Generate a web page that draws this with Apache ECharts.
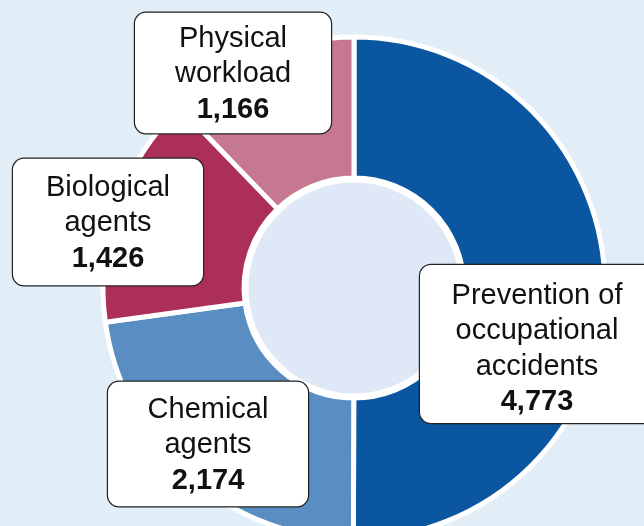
<!DOCTYPE html>
<html>
<head>
<meta charset="utf-8">
<script src="https://cdn.jsdelivr.net/npm/echarts@6/dist/echarts.min.js"></script>
<style>
    html, body { margin: 0; padding: 0; background: #e1eef8; }
    #chart { width: 644px; height: 526px; }
</style>
</head>
<body>
<div id="chart"></div>
<script>
    // topics, clockwise from 12 o'clock
    var topics = ['Prevention of\noccupational\naccidents', 'Chemical\nagents', 'Biological\nagents', 'Physical\nworkload'];
    var counts = [4773, 2174, 1426, 1166];
    var sliceColors = ['#0a56a0', '#5a8ec3', '#ac2f5a', '#c67891'];

    // label boxes: centre x, centre y, width, padding
    var boxes = [
        [537, 344, 234, [13, 0, 3, 0]],
        [208, 444, 200, [10, 0, 8, 0]],
        [108, 222, 190, [11, 0, 9, 0]],
        [233, 73, 196, [8, 0, 6, 0]]
    ];

    var chart = echarts.init(document.getElementById('chart'));

    function fmt(n) {
        return n.toString().replace(/\B(?=(\d{3})+(?!\d))/g, ',');
    }

    var pieData = topics.map(function (t, i) {
        return {
            name: t,
            value: counts[i],
            itemStyle: { color: sliceColors[i] },
            label: {
                width: boxes[i][2],
                padding: boxes[i][3]
            }
        };
    });

    chart.setOption({
        backgroundColor: '#e1eef8',
        animation: false,
        series: [
            {
                type: 'pie',
                center: [354, 288],
                radius: [110, 251],
                startAngle: 90,
                clockwise: true,
                silent: true,
                itemStyle: {
                    borderColor: '#ffffff',
                    borderWidth: 5
                },
                labelLine: { show: false },
                label: {
                    show: true,
                    position: 'outside',
                    align: 'center',
                    backgroundColor: '#ffffff',
                    borderColor: '#222222',
                    borderWidth: 1.2,
                    borderRadius: 11,
                    formatter: function (p) {
                        var lines = p.name.split('\n').map(function (l) {
                            return '{n|' + l + '}';
                        });
                        lines.push('{v|' + fmt(p.value) + '}');
                        return lines.join('\n');
                    },
                    rich: {
                        n: {
                            fontFamily: 'Liberation Sans',
                            fontSize: 29,
                            lineHeight: 35.5,
                            color: '#111111',
                            align: 'center'
                        },
                        v: {
                            fontFamily: 'Liberation Sans',
                            fontSize: 29,
                            fontWeight: 'bold',
                            lineHeight: 35.5,
                            color: '#111111',
                            align: 'center'
                        }
                    }
                },
                labelLayout: function (params) {
                    var b = boxes[params.dataIndex];
                    return {
                        x: b[0],
                        y: b[1],
                        align: 'center',
                        verticalAlign: 'middle',
                        hideOverlap: false
                    };
                },
                data: pieData
            },
            {
                type: 'pie',
                center: [354, 288],
                radius: [0, 108],
                silent: true,
                z: 1,
                itemStyle: {
                    color: '#dee8f6',
                    borderColor: '#ffffff',
                    borderWidth: 5
                },
                label: { show: false },
                labelLine: { show: false },
                data: [{ name: 'centre', value: 1 }]
            }
        ]
    });
</script>
</body>
</html>
